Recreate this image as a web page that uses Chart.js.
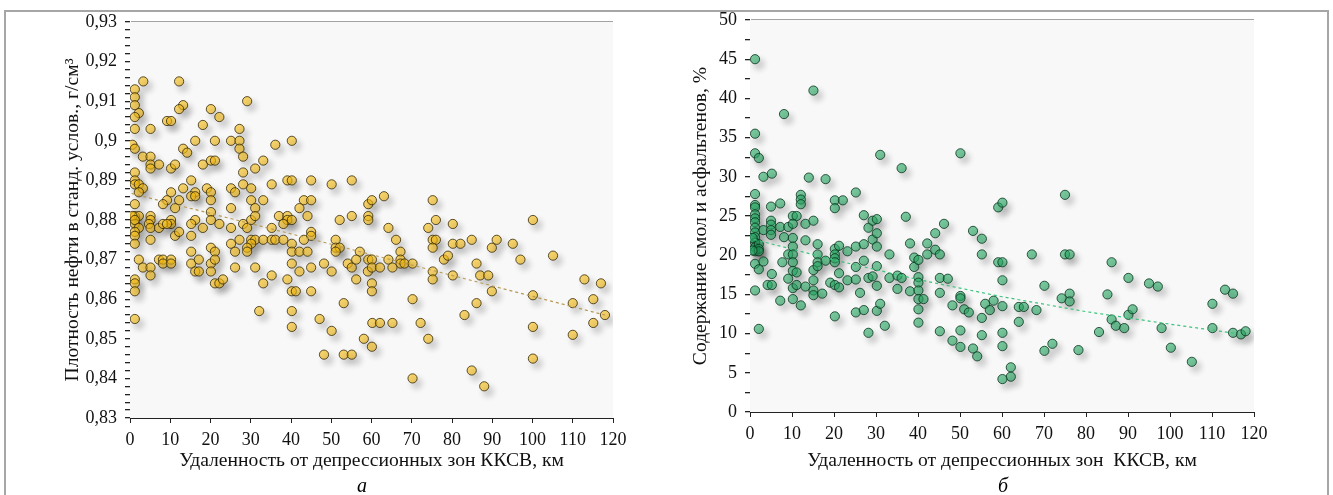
<!DOCTYPE html>
<html>
<head>
<meta charset="utf-8">
<script src="https://cdn.jsdelivr.net/npm/chart.js@4"></script>
<style>
body{margin:0;background:#fff;width:1333px;height:495px;overflow:hidden;position:relative;font-family:"Liberation Serif",serif}
#frame{position:absolute;left:4px;top:10px;width:1321px;height:500px;border:2px solid #a6a6a6;pointer-events:none}
canvas{position:absolute;top:0}
#c1{left:0}
#c2{left:660px}
.sub{position:absolute;top:474px;font-style:italic;font-size:20px;transform:translateX(-50%)}
</style>
</head>
<body>
<div id="frame"></div>
<canvas id="c1" width="660" height="495"></canvas>
<canvas id="c2" width="673" height="495"></canvas>
<div class="sub" style="left:362px">а</div>
<div class="sub" style="left:1003px">б</div>
<script>
// density of oil vs distance (panel a)
var densX = [3.3,12.2,1.2,1.2,1.2,2.2,1.2,13.2,12.2,29.1,20.1,22.2,9.2,10.2,1.2,5.1,18.1,27.2,16.2,21.1,25.1,27.2,40.2,0.6,1.2,27.2,36.1,13.2,14.2,3.2,5.1,5.1,5.1,7.2,10.2,11.2,18.1,20.1,21.1,28.1,33.1,31.1,28.1,1.2,1.2,1.2,2.2,3.2,2.2,15.2,13.2,10.2,16.2,15.2,16.2,19.1,20.1,25.1,26.1,28.1,30.1,35.2,39.1,40.2,45.0,50.1,55.1,9.2,8.2,12.2,11.2,20.1,30.1,33.1,31.1,43.2,45.0,42.1,1.2,25.1,20.1,1.2,2.2,0.6,5.1,5.1,1.2,1.2,10.2,10.2,16.2,20.1,22.2,30.1,31.1,37.0,39.1,39.1,40.2,38.1,44.1,52.1,55.1,28.1,35.2,4.7,2.2,1.2,1.2,1.2,5.1,7.2,8.2,9.2,15.2,18.1,25.1,29.1,11.2,12.2,15.2,5.1,27.2,30.1,31.1,33.1,35.2,36.1,38.1,45.0,45.0,43.2,51.1,25.1,30.1,29.1,40.2,20.1,21.1,51.1,52.1,51.1,26.1,29.1,40.2,42.1,44.1,57.1,15.2,7.2,8.2,10.2,8.2,10.2,2.2,3.2,5.1,5.1,15.2,17.1,20.1,21.1,16.2,17.1,20.1,26.1,31.1,40.2,42.1,45.0,48.2,50.1,54.1,55.1,56.2,59.1,1.2,1.2,1.2,21.1,22.2,23.1,33.1,35.2,39.1,40.2,41.2,45.0,56.2,1.2,32.1,40.2,40.2,47.1,50.1,53.1,58.1,48.2,53.1,55.1,
  59.2,60.1,63.1,59.2,59.2,75.2,76.0,74.1,80.2,100.1,64.2,66.1,67.2,59.2,60.1,64.2,67.2,67.2,68.2,70.2,60.1,62.1,65.2,75.2,76.0,75.2,78.0,79.0,80.2,82.1,84.9,89.9,91.1,95.1,97.0,105.1,75.2,75.2,80.2,86.1,87.0,89.0,89.9,60.1,60.1,70.2,86.1,83.1,100.1,110.0,112.9,117.0,115.1,118.0,60.2,62.1,65.2,72.2,60.1,74.1,100.1,110.0,115.1,100.1,70.2,84.9,88.0];
var densY = [0.915,0.915,0.913,0.911,0.909,0.907,0.906,0.909,0.908,0.910,0.908,0.906,0.905,0.905,0.903,0.903,0.904,0.903,0.900,0.900,0.900,0.900,0.900,0.899,0.898,0.898,0.899,0.898,0.897,0.896,0.896,0.894,0.893,0.894,0.893,0.894,0.894,0.895,0.895,0.896,0.895,0.893,0.892,0.892,0.890,0.889,0.889,0.888,0.887,0.890,0.888,0.887,0.887,0.886,0.886,0.888,0.887,0.888,0.887,0.889,0.888,0.889,0.890,0.890,0.890,0.889,0.890,0.885,0.884,0.885,0.883,0.885,0.885,0.885,0.883,0.885,0.885,0.883,0.884,0.883,0.882,0.881,0.881,0.881,0.881,0.880,0.879,0.880,0.880,0.879,0.880,0.880,0.879,0.880,0.881,0.881,0.881,0.880,0.880,0.879,0.881,0.880,0.881,0.879,0.878,0.879,0.878,0.877,0.876,0.874,0.878,0.878,0.879,0.879,0.879,0.878,0.878,0.878,0.876,0.877,0.876,0.875,0.875,0.875,0.875,0.875,0.875,0.875,0.875,0.877,0.876,0.875,0.875,0.874,0.874,0.873,0.874,0.873,0.872,0.873,0.873,0.872,0.872,0.872,0.872,0.872,0.872,0.872,0.872,0.870,0.870,0.870,0.869,0.869,0.870,0.868,0.868,0.866,0.869,0.870,0.869,0.870,0.867,0.867,0.867,0.868,0.868,0.869,0.867,0.868,0.869,0.867,0.869,0.868,0.870,0.867,0.865,0.864,0.862,0.864,0.864,0.865,0.864,0.866,0.865,0.862,0.862,0.862,0.865,0.855,0.857,0.857,0.853,0.855,0.852,0.859,0.850,0.846,0.846,0.846,
  0.884,0.885,0.886,0.881,0.880,0.885,0.880,0.878,0.879,0.880,0.878,0.875,0.872,0.870,0.870,0.870,0.870,0.869,0.869,0.869,0.868,0.868,0.868,0.875,0.875,0.873,0.870,0.871,0.874,0.874,0.875,0.873,0.875,0.874,0.870,0.871,0.867,0.865,0.866,0.869,0.866,0.866,0.862,0.864,0.862,0.860,0.859,0.856,0.861,0.859,0.865,0.864,0.860,0.856,0.854,0.854,0.854,0.854,0.848,0.850,0.853,0.851,0.854,0.845,0.840,0.842,0.838];
var densTrendX = [0.4, 40, 80, 118];
var densTrendY = [0.8867, 0.8765, 0.866, 0.856];

// resins and asphaltenes vs distance (panel b)
var resinX = [1.2,15.1,8.1,1.2,1.2,2.1,31.0,50.1,36.1,3.2,5.2,14.0,18.0,25.2,1.2,1.2,1.2,5.0,7.2,12.1,12.1,12.1,20.2,22.1,20.2,1.2,1.2,1.2,1.2,1.2,1.2,1.2,1.2,1.2,2.1,2.1,2.1,0.6,0.6,3.2,5.0,5.0,5.0,5.0,7.2,9.1,10.2,11.1,10.2,8.1,10.2,10.2,9.1,10.2,13.2,15.1,13.2,16.1,16.1,16.1,18.0,20.2,21.2,20.2,20.2,20.2,23.2,25.2,27.1,27.1,28.2,29.2,30.2,29.2,30.2,30.2,37.1,38.1,42.2,44.1,33.2,42.2,44.1,45.2,46.2,53.1,55.2,55.2,1.2,2.1,3.2,5.2,4.2,5.2,1.2,2.1,7.7,9.1,7.2,10.2,10.2,10.2,11.1,11.1,10.2,12.1,13.2,15.1,15.1,15.1,15.1,16.1,17.2,19.1,20.2,21.2,21.2,20.2,23.2,25.2,25.2,26.2,25.2,27.1,28.2,27.1,28.2,29.2,30.2,30.2,30.2,31.0,32.1,33.2,35.1,36.1,35.1,38.1,39.1,39.1,40.1,40.1,40.1,40.1,40.1,40.1,40.1,41.3,45.2,45.2,47.1,45.2,48.2,50.1,50.1,50.1,48.2,50.1,51.0,52.1,53.1,54.1,55.2,55.2,56.0,57.1,58.0,
  59.1,60.1,75.0,59.1,60.1,67.1,75.0,76.1,86.1,60.1,70.1,90.1,95.0,97.1,113.1,115.0,60.1,64.0,65.2,68.2,74.2,76.1,76.1,85.1,110.1,64.0,60.1,60.1,83.1,86.1,87.1,89.1,90.1,91.1,98.0,110.1,115.0,116.9,118.0,70.1,72.0,78.2,100.2,105.2,62.1,62.1,60.1];
var resinY = [45.0,41.0,38.0,35.5,33.0,32.4,32.8,33.0,31.1,30.0,30.4,29.9,29.7,28.0,27.8,26.4,26.1,26.2,26.6,27.7,27.1,26.5,27.0,27.0,26.0,25.2,24.7,24.2,23.5,22.9,22.3,21.6,21.0,20.5,21.4,20.8,20.5,22.2,20.6,23.2,24.4,23.9,23.2,22.6,23.6,23.6,25.0,25.0,24.0,22.3,22.2,21.1,20.1,20.1,24.0,24.4,21.9,21.4,20.1,19.1,19.3,20.8,21.2,20.1,19.6,19.1,20.5,21.1,21.4,25.1,23.5,24.4,24.6,22.0,22.8,21.1,24.9,21.5,21.5,22.8,20.1,20.1,20.7,20.1,24.0,23.1,22.1,20.1,18.9,18.2,19.2,17.6,16.2,16.2,15.5,10.6,19.1,17.0,14.2,19.1,18.0,15.8,16.2,17.8,14.4,13.6,16.0,18.1,16.8,15.5,14.9,18.6,15.1,16.5,16.2,17.7,15.9,12.2,16.8,18.5,16.9,15.2,12.7,13.0,10.1,19.3,17.1,17.3,18.6,16.1,12.9,13.8,11.0,17.1,17.4,17.1,15.7,15.4,19.7,18.5,19.4,17.2,16.5,15.5,14.4,13.1,11.4,14.4,17.1,15.2,17.0,10.3,13.6,14.8,14.5,10.4,9.1,8.3,13.1,12.7,8.1,7.1,12.0,9.8,13.8,13.0,14.2,
  26.1,26.7,27.7,19.1,19.1,20.1,20.1,20.1,19.1,16.8,16.1,17.1,16.4,16.0,15.6,15.1,13.5,13.4,13.4,13.0,14.5,15.1,14.1,15.0,13.8,11.5,10.1,8.4,10.2,11.8,11.0,10.7,12.4,13.1,10.7,10.7,10.1,9.9,10.3,7.8,8.7,7.9,8.2,6.4,5.7,4.5,4.2];
var resinTrendX = [1, 20, 40, 60, 80, 100, 116];
var resinTrendY = [22.0, 19.4, 16.9, 14.7, 12.8, 11.2, 10.0];

var FONT = "'Liberation Serif', 'Times New Roman', serif";

function pairs(xs, ys) {
    return xs.map(function(x, i) { return {x: x, y: ys[i]}; });
}

function commaNum(v) {
    return String(Math.round(v * 1000) / 1000).replace('.', ',');
}

// light grey plot background + drop shadow under the points
var plotDecor = {
    id: 'plotDecor',
    beforeDatasetsDraw: function(chart) {
        var a = chart.chartArea, ctx = chart.ctx;
        ctx.save();
        ctx.fillStyle = '#f8f8f8';
        ctx.fillRect(a.left, a.top, a.right - a.left, a.bottom - a.top);
        ctx.restore();
    },
    beforeDatasetDraw: function(chart, args) {
        if (args.index !== 1) return;
        var ctx = chart.ctx;
        ctx.save();
        ctx.shadowColor = 'rgba(0,0,0,0.3)';
        ctx.shadowBlur = 6;
        ctx.shadowOffsetX = 4;
        ctx.shadowOffsetY = 5;
    },
    afterDatasetDraw: function(chart, args) {
        if (args.index !== 1) return;
        chart.ctx.restore();
    }
};

function makeChart(id, cfg) {
    var ctx = document.getElementById(id).getContext('2d');
    return new Chart(ctx, {
        type: 'scatter',
        data: {
            datasets: [{
                type: 'line',
                data: pairs(cfg.trendX, cfg.trendY),
                borderColor: cfg.trendColor,
                borderWidth: 1.2,
                borderDash: [3, 3],
                pointRadius: 0,
                fill: false,
                order: 0
            }, {
                data: pairs(cfg.xs, cfg.ys),
                backgroundColor: cfg.fill,
                borderColor: cfg.edge,
                borderWidth: 1,
                pointRadius: 4.6,
                order: 1
            }]
        },
        options: {
            responsive: false,
            animation: false,
            layout: { padding: cfg.padding },
            plugins: { legend: { display: false }, tooltip: { enabled: false } },
            scales: {
                x: {
                    type: 'linear',
                    min: 0, max: 120,
                    afterFit: function(s) { s.height = cfg.xHeight; },
                    ticks: { stepSize: 10, color: '#111', padding: 6, font: { family: FONT, size: 18 }, maxRotation: 0 },
                    grid: { drawOnChartArea: false, tickLength: 5, tickColor: '#222' },
                    border: { color: '#222', width: 1 },
                    title: { display: true, text: cfg.xTitle, color: '#111', font: { family: FONT, size: 19.6 }, padding: { top: 0, bottom: cfg.xTitlePad } }
                },
                y: {
                    min: cfg.yMin, max: cfg.yMax,
                    afterFit: function(s) { s.width = cfg.yWidth; },
                    ticks: {
                        stepSize: cfg.minorStep,
                        autoSkip: false,
                        color: '#111',
                        padding: 8,
                        font: { family: FONT, size: 18 },
                        callback: function(v) { return cfg.isMajor(v) ? commaNum(v) : ''; }
                    },
                    grid: {
                        tickLength: 5,
                        tickColor: '#222',
                        color: function(c) { return c.tick && cfg.isMajor(c.tick.value) ? '#a3a3a3' : 'rgba(0,0,0,0)'; },
                        lineWidth: 1.3
                    },
                    border: { color: '#222', width: 1 },
                    title: { display: true, text: cfg.yTitle, color: '#111', font: { family: FONT, size: 19.6 }, padding: { top: cfg.yTitlePad, bottom: 0 } }
                }
            }
        },
        plugins: [plotDecor]
    });
}

makeChart('c1', {
    xs: densX, ys: densY, trendX: densTrendX, trendY: densTrendY,
    fill: 'rgba(245,188,20,0.62)', edge: 'rgba(50,40,10,0.8)', trendColor: '#b89a55',
    padding: { left: 50, right: 47, top: 22, bottom: 0 },
    yWidth: 80, xHeight: 77, yTitlePad: 11, xTitlePad: 22,
    yMin: 0.83, yMax: 0.93, minorStep: 0.002,
    isMajor: function(v) { return Math.abs(v * 100 - Math.round(v * 100)) < 1e-6; },
    xTitle: 'Удаленность от депрессионных зон ККСВ, км',
    yTitle: 'Плотность нефти в станд. услов., г/см³'
});

makeChart('c2', {
    xs: resinX, ys: resinY, trendX: resinTrendX, trendY: resinTrendY,
    fill: 'rgba(40,170,100,0.62)', edge: 'rgba(10,50,30,0.8)', trendColor: '#3cc47c',
    padding: { left: 20, right: 79, top: 20, bottom: 0 },
    yWidth: 70, xHeight: 83, yTitlePad: 9, xTitlePad: 22,
    yMin: 0, yMax: 50, minorStep: 2.5,
    isMajor: function(v) { return Math.abs(v / 5 - Math.round(v / 5)) < 1e-6; },
    xTitle: 'Удаленность от депрессионных зон  ККСВ, км',
    yTitle: 'Содержание смол и асфальтенов, %'
});
</script>
</body>
</html>
